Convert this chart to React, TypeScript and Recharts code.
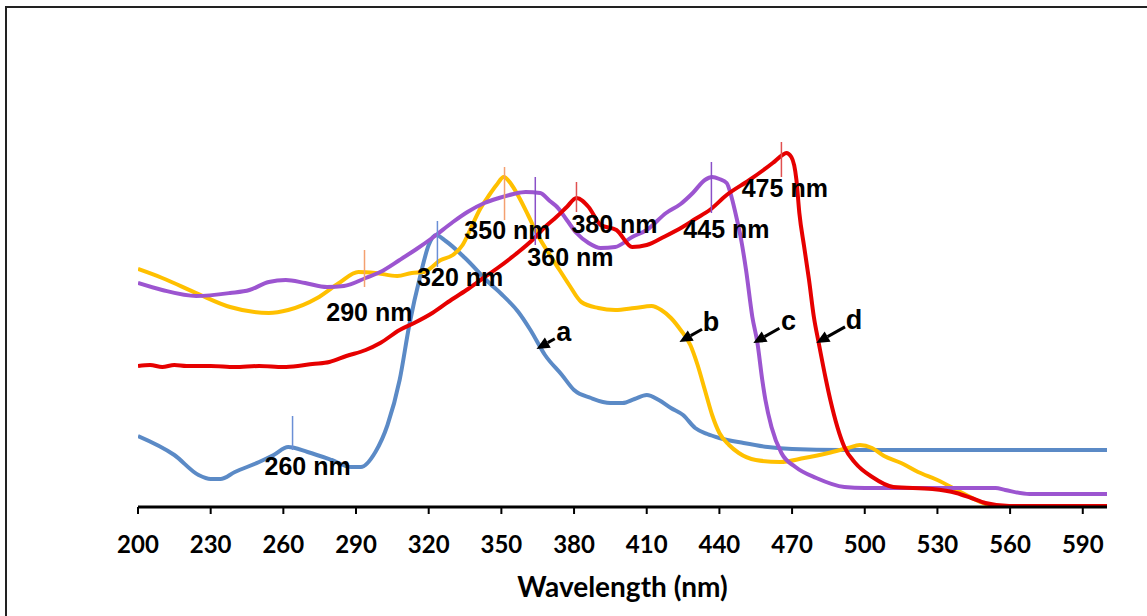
import React from 'react';
import { LineChart, Line, XAxis, YAxis, ReferenceLine, ReferenceDot } from 'recharts';

// Wavelength grid (nm) and absorbance (a.u., arbitrary scale 0-420) per curve
const waveA = [200, 215, 225, 230, 234, 240, 250, 256, 262, 270, 280, 288, 292, 298, 303, 308, 312, 316.6, 320, 323, 327, 335, 345, 350, 357, 362, 368, 375, 380, 387, 395, 400, 405, 410, 415, 420, 425, 430, 435, 440, 450, 460, 470, 490, 520, 560, 600];
const absA = [71, 52, 32, 28, 28, 35, 45, 52, 60, 55, 47, 40, 40, 55, 82, 127, 182, 232, 262, 272, 266, 249, 224, 213, 195, 177, 152, 132, 117, 109, 104, 104, 108, 112, 107, 99, 92, 79, 73, 69, 64, 60, 58, 57, 57, 57, 57];

const waveB = [200, 210, 224, 238, 254, 262, 274, 283, 291, 298, 307, 313, 318, 325, 330, 334, 338, 341, 345, 348, 351, 354, 357, 361, 365, 370, 374, 378, 383, 390, 397, 405, 412, 416, 420, 424, 428, 431, 434, 437, 440, 444, 448, 455, 465, 475, 485, 493, 498, 503, 508, 515, 522, 530, 538, 545, 550, 556, 600];
const absB = [238, 229, 214, 200, 194, 197, 209, 224, 235, 234, 231, 234, 235, 247, 252, 262, 282, 297, 312, 322, 330, 323, 311, 292, 272, 252, 237, 222, 205, 199, 197, 199, 201, 197, 189, 177, 162, 142, 117, 92, 74, 62, 54, 47, 45, 49, 54, 59, 62, 59, 51, 44, 35, 27, 17, 8, 3, 0, 0];

const waveC = [200, 210, 224, 238, 246, 254, 261, 269, 278, 285, 294, 300, 308, 315, 322, 330, 336, 343, 349, 355, 360, 366, 370, 373, 377, 381, 386, 391, 397, 404, 410, 418, 424, 429, 434, 437, 440, 443, 445, 447, 449, 451, 453.6, 455.7, 457.7, 459, 461.5, 465.6, 471.4, 480, 491.6, 500, 540, 554, 558, 568, 600];
const absC = [224, 217, 211, 214, 217, 225, 227, 224, 220, 221, 229, 235, 247, 258, 270, 285, 295, 304, 309, 313, 315, 314, 306, 300, 287, 274, 264, 259, 260, 270, 277, 294, 303, 314, 327, 330, 328, 324, 310, 290, 267, 237, 190, 164, 127, 107, 80, 54, 40, 29, 20, 19, 19, 19, 17, 13, 13];

const waveD = [200, 205, 210, 215, 220, 230, 240, 250, 260, 266, 272, 279, 286, 294, 300, 308, 314, 321.5, 328, 335.6, 342, 349, 356, 362.8, 368, 372.7, 377, 381, 386, 391, 397.5, 404, 410, 417, 424.8, 430, 436, 443, 452.4, 462, 466, 467.6, 469.7, 471.8, 473, 475, 477, 479, 481, 484, 485.8, 491.6, 496.1, 503.1, 511.8, 527.9, 537.8, 544, 549.8, 559.7, 600];
const absD = [141, 142, 140, 142, 141, 141, 140, 141, 140, 141, 143, 145, 151, 157, 164, 177, 184, 194, 205, 217, 228, 240, 253, 267, 280, 290, 300, 309, 300, 282, 277, 260, 262, 270, 280, 288, 297, 312, 327, 344, 352, 354, 350, 327, 294, 260, 227, 190, 164, 127, 107, 60, 44, 30, 20, 18, 14, 9, 4, 1, 1];

const xTicks = [200, 230, 260, 290, 320, 350, 380, 410, 440, 470, 500, 530, 560, 590];

// Peak markers: wavelength, top and bottom absorbance of the marker tick
const markerWave = [263.8, 293.5, 323.6, 351.3, 364, 381, 436.7, 465.6];
const markerTop = [91, 257, 286, 340, 330, 325, 345, 365];
const markerBottom = [57, 220, 240, 287, 262, 295, 294, 330];
const markerColor = ['#6a8fd6', '#f4a070', '#6a8fd6', '#f4a070', '#8a50c8', '#e05050', '#8a50c8', '#e05050'];

// Peak labels: text, anchor wavelength and absorbance (centre of the text)
const peakText = ['260 nm', '290 nm', '320 nm', '350 nm', '360 nm', '380 nm', '445 nm', '475 nm'];
const peakWave = [270, 295.5, 333, 352.5, 378.5, 396.7, 442.9, 467];
const peakAbs = [41, 195, 230, 277, 250, 283, 278, 319];

// Curve arrows: letter, arrow-tip wavelength and absorbance
const arrowText = ['a', 'b', 'c', 'd'];
const arrowWave = [364.5, 423.5, 454, 480];
const arrowAbs = [158, 165, 164, 164];
const arrowLen = [21, 26, 30, 33];

const toData = (w: number[], a: number[]) => w.map((x, i) => ({ x, y: a[i] }));
const dataA = toData(waveA, absA);
const dataB = toData(waveB, absB);
const dataC = toData(waveC, absC);
const dataD = toData(waveD, absD);

const ANN_FONT = '"Liberation Sans", Arial, sans-serif';
const AXIS_FONT = 'Lato, "Open Sans", sans-serif';

const PeakLabel = (props: any) => {
  const { cx, cy, text } = props;
  return (
    <text x={cx} y={cy} textAnchor="middle" dominantBaseline="central" fontFamily={ANN_FONT} fontWeight="bold" fontSize={25} fill="#000">
      {text}
    </text>
  );
};

const ArrowMark = (props: any) => {
  const { cx, cy, text, len } = props;
  const ux = 0.87, uy = -0.49;
  const tx = cx + ux * len, ty = cy + uy * len;
  const head = 13, hw = 6;
  const bx = cx + ux * head, by = cy + uy * head;
  const px = -uy, py = ux;
  return (
    <g>
      <line x1={bx} y1={by} x2={tx} y2={ty} stroke="#000" strokeWidth={3} />
      <polygon points={`${cx},${cy} ${bx + px * hw},${by + py * hw} ${bx - px * hw},${by - py * hw}`} fill="#000" />
      <text x={tx + 9} y={ty - 7} textAnchor="middle" dominantBaseline="central" fontFamily={ANN_FONT} fontWeight="bold" fontSize={27} fill="#000">
        {text}
      </text>
    </g>
  );
};

const XTitle = (props: any) => {
  const vb = props.viewBox || {};
  return (
    <text x={vb.x + vb.width / 2} y={vb.y + 90} textAnchor="middle" fontFamily={AXIS_FONT} fontWeight="bold" fontSize={28} fill="#000">
      Wavelength (nm)
    </text>
  );
};

const YTitle = (props: any) => {
  const vb = props.viewBox || {};
  const x = vb.x - 81;
  const y = vb.y + vb.height / 2;
  return (
    <text x={x} y={y} transform={`rotate(-90 ${x} ${y})`} textAnchor="middle" dominantBaseline="central" fontFamily={AXIS_FONT} fontWeight="bold" fontSize={25} fill="#000">
      Absorbance (a.u.)
    </text>
  );
};

export default function App() {
  return (
    <div style={{ position: 'absolute', left: 0, top: 0, width: 1147, height: 616, background: '#fff', overflow: 'hidden' }}>
      <div style={{ position: 'absolute', left: 5, top: 6, width: 1160, height: 640, borderTop: '2px solid #222', borderLeft: '2px solid #222' }} />
      <LineChart width={1147} height={616} margin={{ top: 87, right: 40, bottom: 9, left: 138 }} style={{ position: 'absolute', left: 0, top: 0 }}>
        <XAxis
          type="number"
          dataKey="x"
          domain={[200, 600]}
          ticks={xTicks}
          allowDataOverflow
          height={100}
          tickSize={7}
          tickMargin={22}
          axisLine={{ stroke: '#000', strokeWidth: 3 }}
          tickLine={{ stroke: '#000', strokeWidth: 2 }}
          tick={{ fill: '#000', fontSize: 24, fontWeight: 'bold', fontFamily: AXIS_FONT }}
          label={<XTitle />}
        />
        <YAxis
          type="number"
          dataKey="y"
          domain={[0, 420]}
          allowDataOverflow
          width={0}
          tick={false}
          tickLine={false}
          axisLine={{ stroke: '#000', strokeWidth: 3 }}
          label={<YTitle />}
        />
        <Line data={dataA} dataKey="y" type="monotone" stroke="#5b8ac6" strokeWidth={4} dot={false} isAnimationActive={false} />
        <Line data={dataB} dataKey="y" type="monotone" stroke="#ffc000" strokeWidth={4} dot={false} isAnimationActive={false} />
        <Line data={dataC} dataKey="y" type="monotone" stroke="#9c55d0" strokeWidth={4} dot={false} isAnimationActive={false} />
        <Line data={dataD} dataKey="y" type="monotone" stroke="#e60000" strokeWidth={4} dot={false} isAnimationActive={false} />
        {markerWave.map((w, i) => (
          <ReferenceLine
            key={'m' + i}
            segment={[{ x: w, y: markerTop[i] }, { x: w, y: markerBottom[i] }]}
            stroke={markerColor[i]}
            strokeWidth={1.5}
          />
        ))}
        {peakText.map((t, i) => (
          <ReferenceDot key={'p' + i} x={peakWave[i]} y={peakAbs[i]} r={0} shape={(p: any) => <PeakLabel {...p} text={t} />} />
        ))}
        {arrowText.map((t, i) => (
          <ReferenceDot key={'a' + i} x={arrowWave[i]} y={arrowAbs[i]} r={0} shape={(p: any) => <ArrowMark {...p} text={t} len={arrowLen[i]} />} />
        ))}
      </LineChart>
    </div>
  );
}
